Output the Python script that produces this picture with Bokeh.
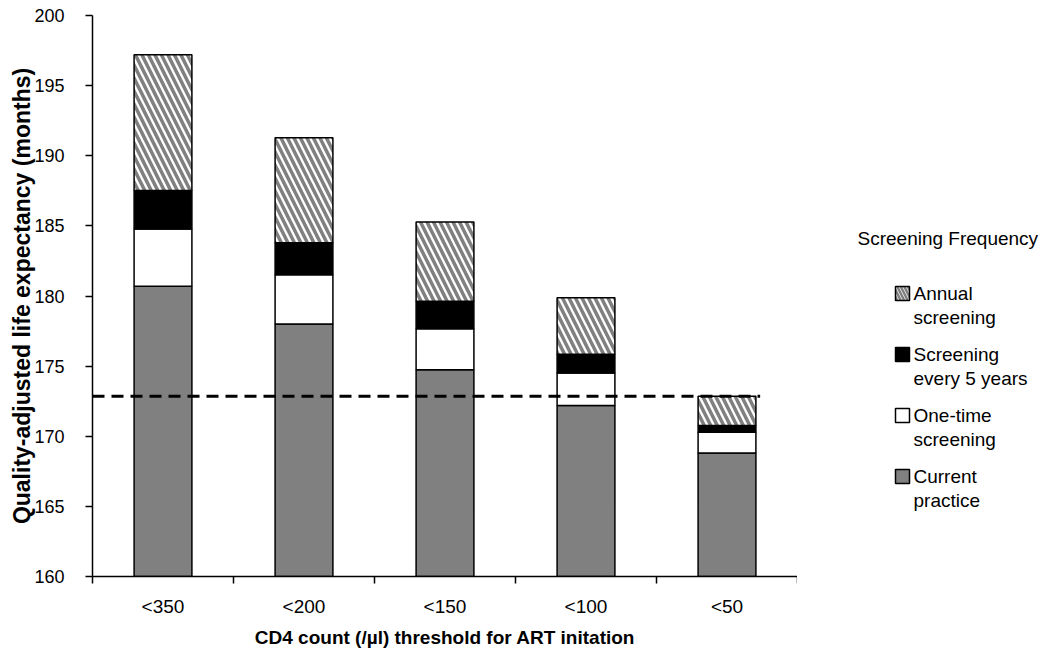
from bokeh.plotting import figure
from bokeh.layouts import row
from bokeh.models import FixedTicker, Range1d
from bokeh.embed import file_html
from bokeh.resources import INLINE
from bokeh.core.properties import value

# ---- data ----
categories = ["<350", "<200", "<150", "<100", "<50"]
# cumulative quality-adjusted life expectancy (months) for each strategy
current_practice = [180.7, 178.0, 174.75, 172.2, 168.8]
one_time_screening = [184.77, 181.52, 177.67, 174.51, 170.28]
screening_every_5_years = [187.53, 183.8, 179.62, 175.84, 170.76]
annual_screening = [197.2, 191.28, 185.27, 179.88, 172.85]
y_ticks = [160, 165, 170, 175, 180, 185, 190, 195, 200]
axis_base = 160
legend_title = "Screening Frequency"
legend_labels = ["Annual\nscreening", "Screening\nevery 5 years",
                 "One-time\nscreening", "Current\npractice"]

FONT = "Liberation Sans"
BAR_W = 0.41
H = 655
FR_TOP, FR_BOT, FR_LEFT, FR_RIGHT = 15, 576, 92, 797

xs = list(range(len(categories)))
bounds = [i - 0.5 for i in range(len(categories) + 1)]

p = figure(width=FR_RIGHT, height=H, output_backend="svg", toolbar_location=None,
           x_range=Range1d(bounds[0], bounds[-1]), y_range=Range1d(y_ticks[0], y_ticks[-1]),
           min_border_left=FR_LEFT, min_border_top=FR_TOP,
           min_border_bottom=H - FR_BOT, min_border_right=0)
p.outline_line_color = None
p.xgrid.visible = False
p.ygrid.visible = False

fill_colors = ["white", "black", "white", "#808080"]
hatches = ["left_diagonal_line", " ", " ", " "]

common = dict(width=BAR_W, line_color="black", line_width=1.5)
r_cur = p.vbar(x=xs, bottom=[axis_base] * len(xs), top=current_practice,
               fill_color=fill_colors[3], **common)
r_one = p.vbar(x=xs, bottom=current_practice, top=one_time_screening,
               fill_color=fill_colors[2], **common)
r_five = p.vbar(x=xs, bottom=one_time_screening, top=screening_every_5_years,
                fill_color=fill_colors[1], **common)
r_ann = p.vbar(x=xs, bottom=screening_every_5_years, top=annual_screening,
               fill_color=fill_colors[0], hatch_pattern=hatches[0],
               hatch_color="#808080", hatch_weight=3.5, hatch_scale=13, **common)

# reference line at the <50 annual-screening level
p.line(x=[bounds[0], xs[-1] + BAR_W / 2 + 0.03], y=[annual_screening[-1]] * 2,
       line_color="black", line_width=3, line_dash="12 7")

# axes
yax = p.yaxis[0]
yax.ticker = FixedTicker(ticks=y_ticks)
yax.minor_tick_line_color = None
yax.major_tick_out = 7
yax.major_tick_in = 0
yax.axis_line_width = 1.5
yax.major_tick_line_width = 1.5
yax.major_label_standoff = 21
yax.major_label_text_font = FONT
yax.major_label_text_font_size = "18px"
yax.major_label_text_color = "black"
yax.axis_label = "Quality-adjusted life expectancy (months)"
yax.axis_label_text_font = FONT
yax.axis_label_text_font_style = "bold"
yax.axis_label_text_font_size = "23px"
yax.axis_label_text_color = "black"
yax.axis_label_standoff = -4

xax = p.xaxis[0]
xax.ticker = FixedTicker(ticks=xs, minor_ticks=bounds)
xax.major_label_overrides = {i: c for i, c in zip(xs, categories)}
xax.major_tick_out = 0
xax.major_tick_in = 0
xax.minor_tick_out = 7
xax.minor_tick_in = 0
xax.minor_tick_line_width = 1.5
xax.axis_line_width = 1.5
xax.major_label_standoff = 12
xax.major_label_text_font = FONT
xax.major_label_text_font_size = "19px"
xax.major_label_text_color = "black"
xax.axis_label = "CD4 count (/\u00b5l) threshold for ART initation"
xax.axis_label_text_font = FONT
xax.axis_label_text_font_style = "bold"
xax.axis_label_text_font_size = "19px"
xax.axis_label_text_color = "black"
xax.axis_label_standoff = 7

# ---- legend panel (page pixel coordinates, y downward) ----
LW = 245
lg = figure(width=LW, height=H, output_backend="svg", toolbar_location=None,
            x_range=Range1d(FR_RIGHT, FR_RIGHT + LW), y_range=Range1d(FR_BOT, FR_TOP),
            min_border_left=0, min_border_right=0, min_border_top=FR_TOP,
            min_border_bottom=H - FR_BOT, x_axis_location=None, y_axis_location=None)
lg.outline_line_color = None
lg.xgrid.visible = False
lg.ygrid.visible = False

lg.text(x=[857], y=[238], text=[legend_title], text_font=value(FONT),
        text_font_size="19px", text_baseline="middle", text_align="left",
        text_color="black")

item_y0, item_dy, line_dy = 293, 61, 23.5
for k, lab in enumerate(legend_labels):
    cy = item_y0 + k * item_dy
    lg.rect(x=[902], y=[cy], width=14, height=14, fill_color=fill_colors[k],
            line_color="black", line_width=1.5,
            hatch_pattern=hatches[k], hatch_color="#808080",
            hatch_weight=2.5, hatch_scale=7)
    for j, line in enumerate(lab.split("\n")):
        lg.text(x=[913], y=[cy + j * line_dy], text=[line], text_font=value(FONT),
                text_font_size="19px", text_baseline="middle", text_align="left",
                text_color="black")

layout = row(p, lg)
open("out.html", "w").write(file_html(layout, INLINE))
